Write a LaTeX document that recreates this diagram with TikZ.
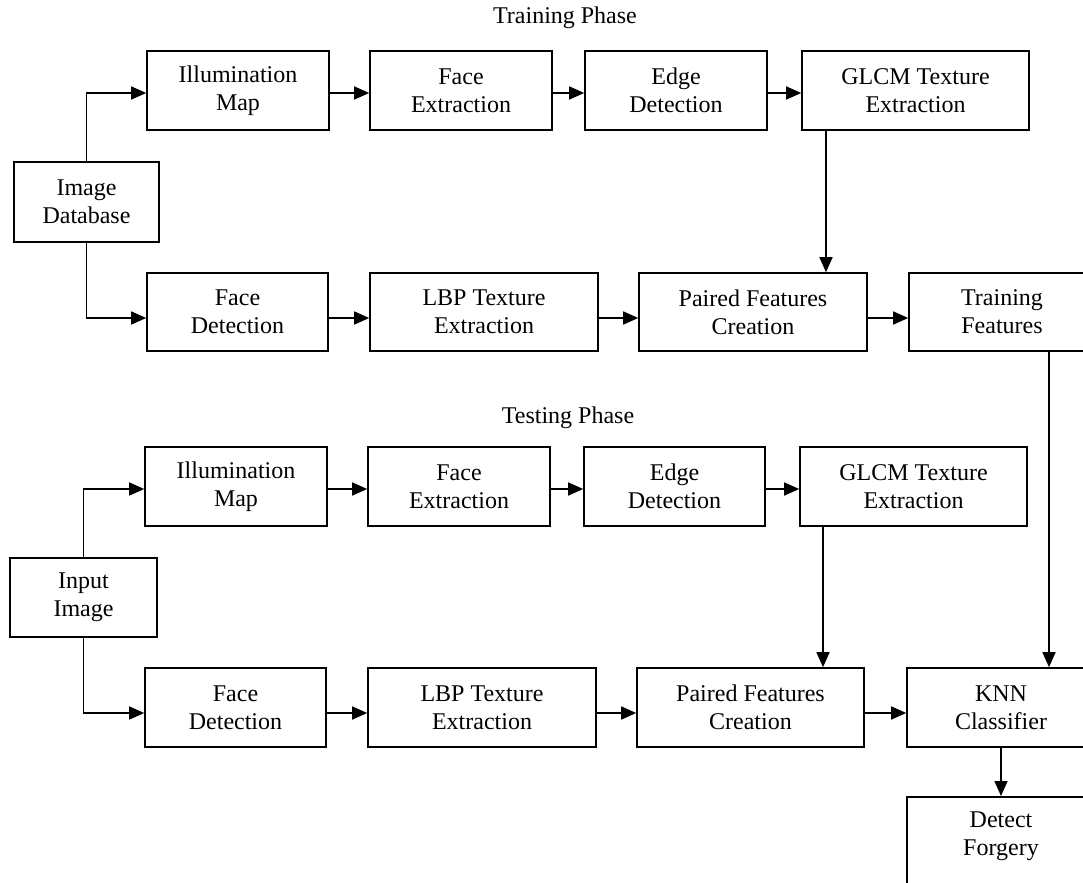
\documentclass[tikz,border=0pt]{standalone}
\usepackage{fontspec}
\setmainfont{Liberation Serif}
\usetikzlibrary{arrows.meta}
\tikzset{
  box/.style={draw, line width=0.8pt, minimum height=39.5pt, align=center, inner sep=0pt, font=\fontsize{12pt}{14pt}\selectfont},
  arr/.style={line width=0.8pt, -{Triangle[length=7.5pt,width=6.5pt]}},
  ttl/.style={font=\fontsize{12pt}{14pt}\selectfont},
}
\begin{document}
\begin{tikzpicture}[x=0.5pt,y=-0.5pt]
\useasboundingbox (0,0) rectangle (1083,883);
\clip (0,0) rectangle (1083,883);
% titles
\node[ttl] (t1) at (565,18) {Training Phase};
\node[ttl] (t2) at (568,418) {Testing Phase};
% training
\node[box, minimum width=72.5pt, minimum height=40pt] (db) at (86.5,202) {Image\\Database};
\node[box, minimum width=91pt] (il1) at (238,90.5) {Illumination\\Map};
\node[box, minimum width=91pt] (fe1) at (461,90.5) {Face\\Extraction};
\node[box, minimum width=91pt] (ed1) at (676,90.5) {Edge\\Detection};
\node[box, minimum width=113.5pt] (gl1) at (915.5,90.5) {GLCM Texture\\Extraction};
\node[box, minimum width=90.5pt, minimum height=39pt] (fd1) at (237.5,312) {Face\\Detection};
\node[box, minimum width=114pt, minimum height=39pt] (lb1) at (484,312) {LBP Texture\\Extraction};
\node[box, minimum width=114pt, minimum height=39pt] (pf1) at (753,312) {Paired Features\\Creation};
\node[box, minimum width=93pt, minimum height=39pt] (tf) at (1002,312) {Training\\Features};
% testing
\node[box, minimum width=73.5pt] (in) at (83.5,597.5) {Input\\Image};
\node[box, minimum width=91pt] (il2) at (236,486.5) {Illumination\\Map};
\node[box, minimum width=91pt] (fe2) at (459,486.5) {Face\\Extraction};
\node[box, minimum width=90.5pt] (ed2) at (674.5,486.5) {Edge\\Detection};
\node[box, minimum width=113.5pt] (gl2) at (913.5,486.5) {GLCM Texture\\Extraction};
\node[box, minimum width=90.5pt] (fd2) at (235.5,707.5) {Face\\Detection};
\node[box, minimum width=114pt] (lb2) at (482,707.5) {LBP Texture\\Extraction};
\node[box, minimum width=113.5pt] (pf2) at (750.5,707.5) {Paired Features\\Creation};
\node[box, minimum width=94pt] (knn) at (1001,707.5) {KNN\\Classifier};
\node[box, minimum width=94pt, minimum height=60pt, anchor=north] (det) at (1001,796) {};
\node[align=center, font=\fontsize{12pt}{14pt}\selectfont] (detl) at (1001,836) {Detect\\Forgery};
% helper x positions
\coordinate (x1) at (826,0);
\coordinate (x2) at (1049,0);
\coordinate (x3) at (823,0);
% training connectors
\draw[arr] (db.north) |- ([yshift=-1.25pt]il1.west);
\draw[arr] (db.south) |- ([yshift=-3pt]fd1.west);
\draw[arr] ([yshift=-1.25pt]il1.east) -- ([yshift=-1.25pt]fe1.west);
\draw[arr] ([yshift=-1.25pt]fe1.east) -- ([yshift=-1.25pt]ed1.west);
\draw[arr] ([yshift=-1.25pt]ed1.east) -- ([yshift=-1.25pt]gl1.west);
\draw[arr] ([yshift=-3pt]fd1.east) -- ([yshift=-3pt]lb1.west);
\draw[arr] ([yshift=-3pt]lb1.east) -- ([yshift=-3pt]pf1.west);
\draw[arr] ([yshift=-3pt]pf1.east) -- ([yshift=-3pt]tf.west);
\draw[arr] (gl1.south -| x1) -- (pf1.north -| x1);
\draw[arr] (tf.south -| x2) -- (knn.north -| x2);
% testing connectors
\draw[arr] (in.north) |- ([yshift=-1.25pt]il2.west);
\draw[arr] (in.south) |- ([yshift=-2.75pt]fd2.west);
\draw[arr] ([yshift=-1.25pt]il2.east) -- ([yshift=-1.25pt]fe2.west);
\draw[arr] ([yshift=-1.25pt]fe2.east) -- ([yshift=-1.25pt]ed2.west);
\draw[arr] ([yshift=-1.25pt]ed2.east) -- ([yshift=-1.25pt]gl2.west);
\draw[arr] ([yshift=-2.75pt]fd2.east) -- ([yshift=-2.75pt]lb2.west);
\draw[arr] ([yshift=-2.75pt]lb2.east) -- ([yshift=-2.75pt]pf2.west);
\draw[arr] ([yshift=-2.75pt]pf2.east) -- ([yshift=-2.75pt]knn.west);
\draw[arr] (gl2.south -| x3) -- (pf2.north -| x3);
\draw[arr] (knn.south) -- (det.north);
\end{tikzpicture}
\end{document}
